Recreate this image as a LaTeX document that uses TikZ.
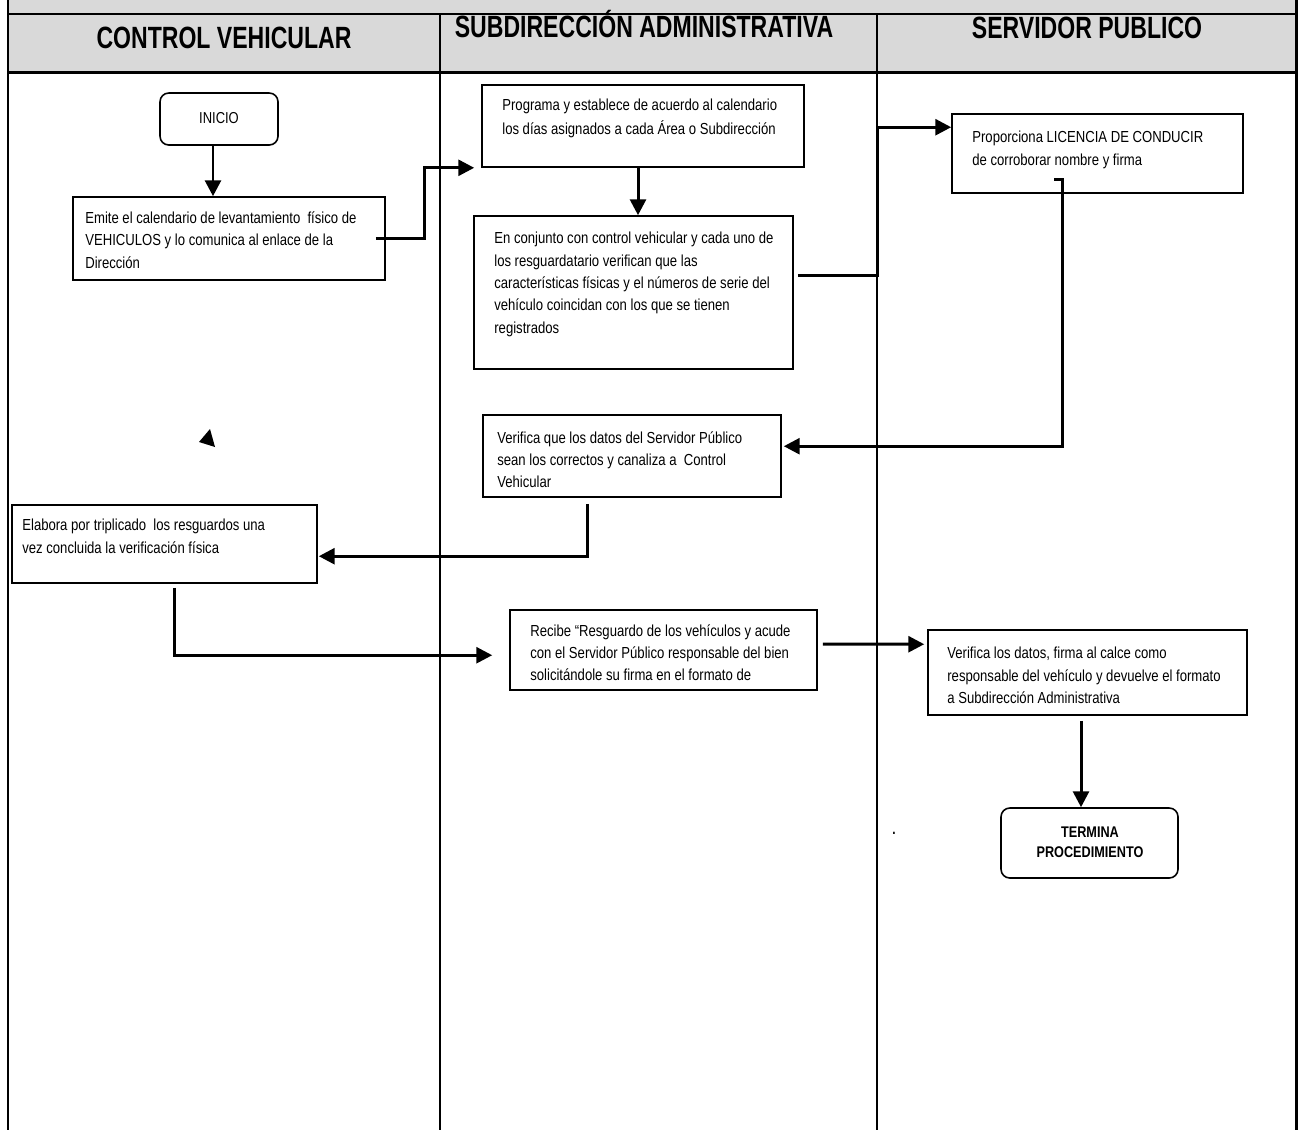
\documentclass[tikz,border=0pt]{standalone}
\usepackage{fontspec}
\setmainfont{Liberation Sans}[FakeStretch=0.82]
\newfontfamily\headfont{Liberation Sans}[FakeStretch=0.75]
\usetikzlibrary{arrows.meta,fit,calc}
\definecolor{headgray}{RGB}{217,217,217}
\begin{document}
\begin{tikzpicture}[x=0.02cm,y=-0.02cm,
  box/.style={draw,line width=0.9pt,inner sep=0pt},
  termbox/.style={draw,line width=0.9pt,inner sep=0pt,rounded corners=5pt},
  txt/.style={anchor=north west,inner sep=0pt,align=left,font=\fontsize{9.1}{12.7}\selectfont},
  ctxt/.style={inner sep=0pt,align=center},
  head/.style={inner sep=0pt,font=\headfont\bfseries\fontsize{17.5}{20}\selectfont},
  arr/.style={line width=1.7pt,-{Triangle[length=9pt,width=9pt]}},
  lane/.style={line width=0.85pt},
  frame/.style={line width=1.7pt}]
\useasboundingbox (0,0) rectangle (1300,1130);

% header band and swimlane frame
\fill[headgray] (8,0) rectangle (1296,72);
\draw[frame] (8,0) -- (8,1130);
\draw[frame] (1296,0) -- (1296,1130);
\draw[frame] (8,14) -- (1296,14);
\draw[frame] (8,72) -- (1296,72);
\draw[lane] (440,14) -- (440,1130);
\draw[lane] (877,14) -- (877,1130);

\node[head] (h1) at (224,38) {CONTROL VEHICULAR};
\node[head] (h2) at (644,24) {SUBDIRECCIÓN ADMINISTRATIVA};
\node[head] (h3) at (1087,28) {SERVIDOR PUBLICO};

% process steps
\node[termbox,fit={(160,93) (278,145)}] (inicio) {};
\node[ctxt,font=\fontsize{9}{10}\selectfont] (tinicio) at (219,118) {INICIO};

\node[box,fit={(73,197) (385,280)}] (emite) {};
\node[txt,font=\fontsize{9.1}{13}\selectfont] (temite) at (85,211) {Emite el calendario de levantamiento\ \ físico de\\VEHICULOS y lo comunica al enlace de la\\Dirección};

\node[box,fit={(482,85) (804,167)}] (prog) {};
\node[txt,font=\fontsize{9.1}{13.3}\selectfont] (tprog) at (502,99) {Programa y establece de acuerdo al calendario\\los días asignados a cada Área o Subdirección};

\node[box,fit={(474,216) (793,369)}] (conj) {};
\node[txt] (tconj) at (494,232) {En conjunto con control vehicular y cada uno de\\los resguardatario verifican que las\\características físicas y el números de serie del\\vehículo coincidan con los que se tienen\\registrados};

\node[box,fit={(952,114) (1243,193)}] (prop) {};
\node[txt] (tprop) at (972,131) {Proporciona LICENCIA DE CONDUCIR\\de corroborar nombre y firma};

\node[box,fit={(483,415) (781,497)}] (verif) {};
\node[txt] (tverif) at (497,431) {Verifica que los datos del Servidor Público\\sean los correctos y canaliza a\ \ Control\\Vehicular};

\node[box,fit={(12,505) (317,583)}] (elab) {};
\node[txt] (telab) at (22,519) {Elabora por triplicado\ \ los resguardos una\\vez concluida la verificación física};

\node[box,fit={(510,610) (817,690)}] (recibe) {};
\node[txt] (trecibe) at (530,624) {Recibe “Resguardo de los vehículos y acude\\con el Servidor Público responsable del bien\\solicitándole su firma en el formato de};

\node[box,fit={(928,630) (1247,715)}] (verif2) {};
\node[txt] (tverif2) at (947,647) {Verifica los datos, firma al calce como\\responsable del vehículo y devuelve el formato\\a Subdirección Administrativa};

\node[termbox,fit={(1001,808) (1178,878)}] (fin) {};
\node[ctxt,font=\bfseries\fontsize{8.8}{11.3}\selectfont] (tfin) at (1090,842) {TERMINA\\PROCEDIMIENTO};

% connector columns
\coordinate (xa) at (213,0);
\coordinate (xb) at (638,0);
\coordinate (xc) at (1081,0);

% connectors
\draw[arr] (inicio.south -| xa) -- (emite.north -| xa);
\draw[arr] ($(emite.east)+(-10,0)$) -- ++(49,0) |- ($(prog.south west)+(-7,0)$);
\draw[arr] (prog.south -| xb) -- (conj.north -| xb);
\draw[arr] ($(conj.north east)+(4,60)$) -- ++(80,0) |- ($(prop.north west)+(0,14)$);
\draw[arr] ($(prop.south west)+(103,-14)$) -- ++(8,0) |- ($(verif.north east)+(2,32)$);
\draw[arr] ($(verif.south west)+(105,6)$) |- ($(elab.north east)+(1,52)$);
\draw[arr] ($(elab.south west)+(163,4)$) |- ($(recibe.north west)+(-17,46)$);
\draw[arr] ($(recibe.north east)+(5,35)$) -- ($(verif2.north west)+(-3,15)$);
\draw[arr] ($(verif2.south -| xc)+(0,5)$) -- (fin.north -| xc);

% loose marks
\fill (210,429) -- (199,442) -- (215,447) -- cycle;
\node[inner sep=0pt,font=\fontsize{12}{12}\selectfont] (dot) at (894,833) {.};
\end{tikzpicture}
\end{document}
